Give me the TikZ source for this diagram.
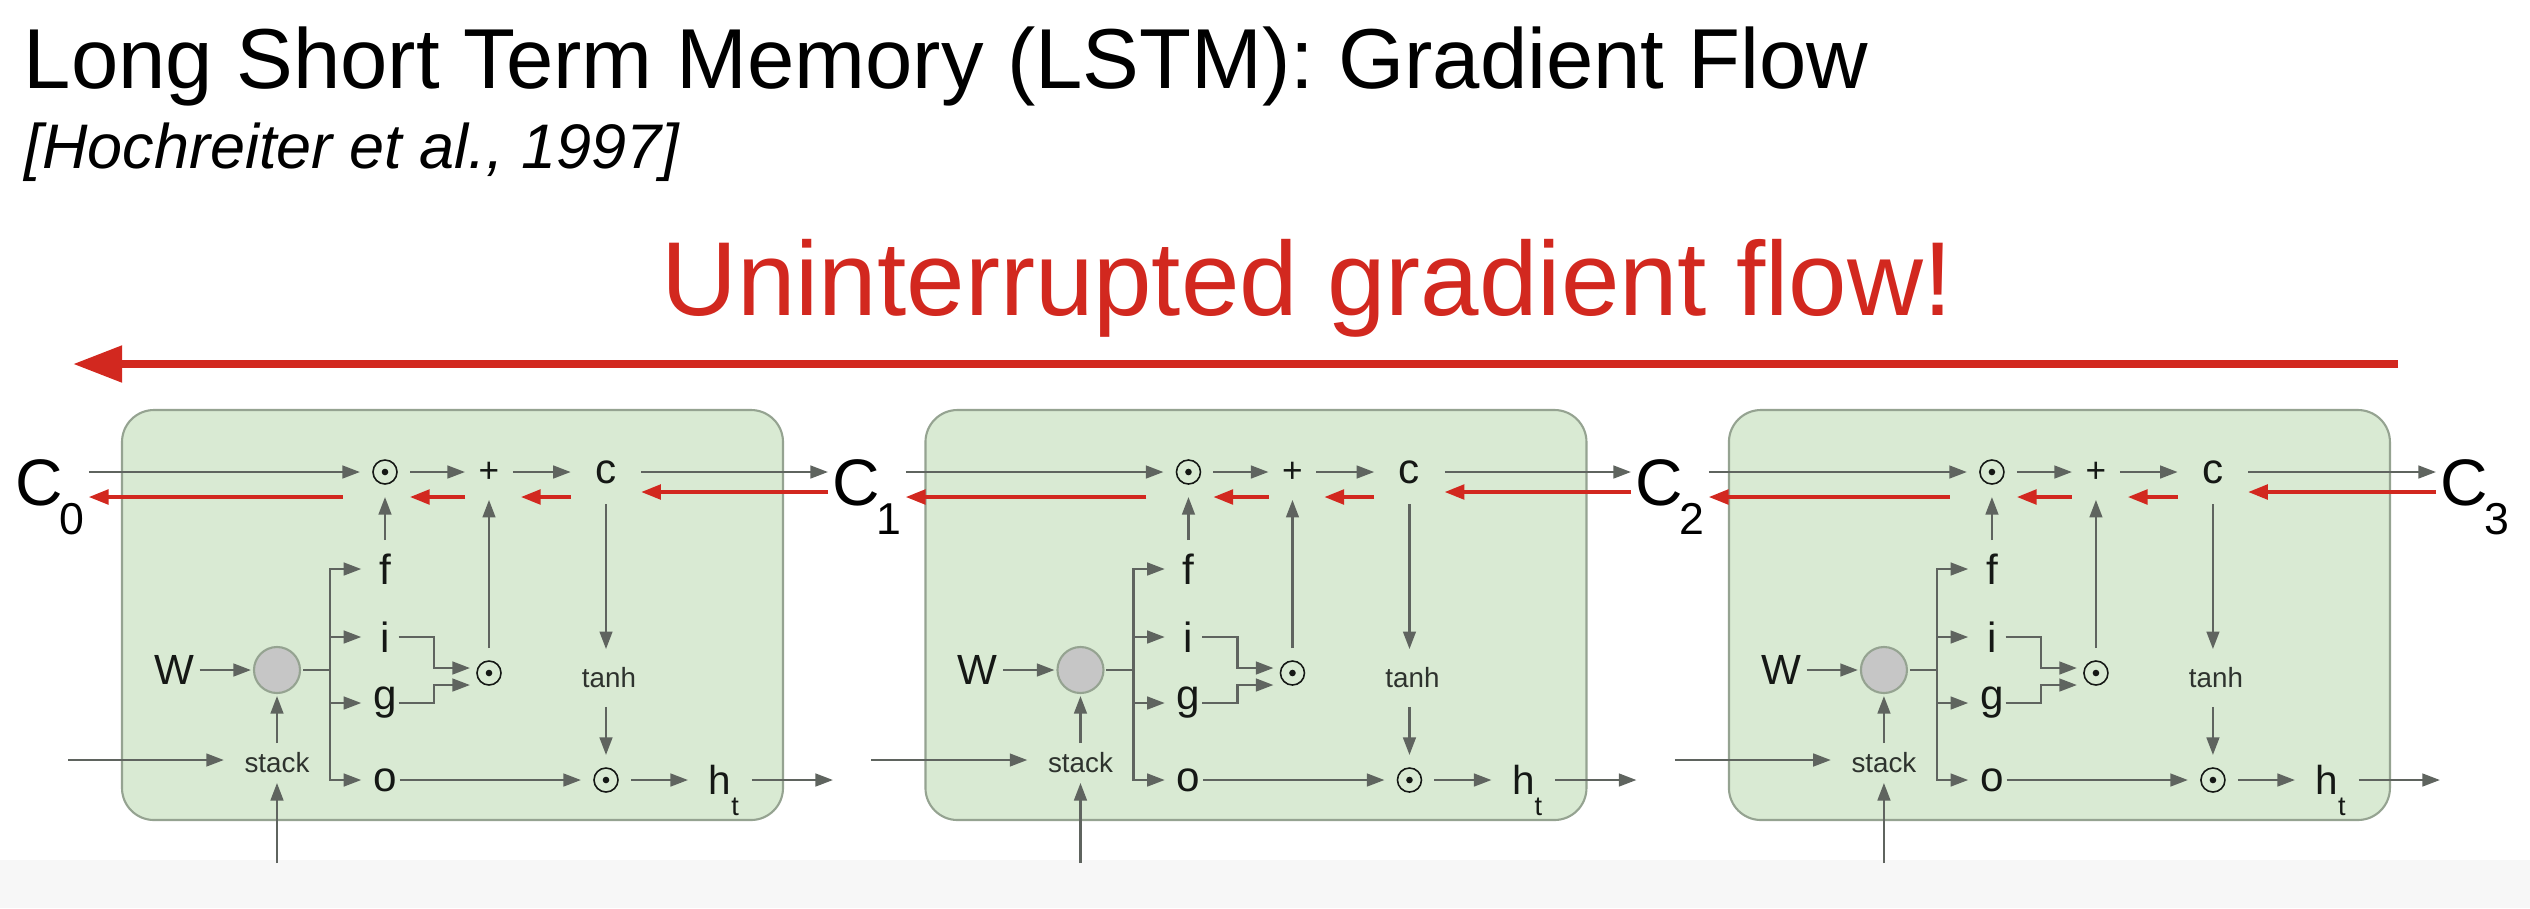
\documentclass[tikz,border=0pt]{standalone}
\usepackage{fontspec}
\setmainfont{Liberation Sans}
\usepackage{xcolor}
\usepackage{tikz}
\usetikzlibrary{arrows.meta, calc}
\definecolor{cellfill}{HTML}{D9EAD3}
\definecolor{cellline}{HTML}{95A391}
\definecolor{wiregray}{HTML}{5F645F}
\definecolor{ink}{HTML}{151815}
\definecolor{softink}{HTML}{2E332E}
\definecolor{flowred}{HTML}{D2281F}
\definecolor{nodegray}{HTML}{C6C6C6}
\definecolor{bandgray}{HTML}{F7F7F7}

\tikzset{
  cellbox/.style={draw=cellline, fill=cellfill, line width=0.6pt, rounded corners=0.32cm},
  wire/.style={draw=wiregray, line width=0.7pt},
  warrow/.style={wire, -{Triangle[length=5pt, width=3.6pt]}},
  backflow/.style={draw=flowred, line width=0.9pt, -{Triangle[length=5.6pt, width=4.2pt]}},
  gate/.style={text=ink, font=\fontsize{12}{14}\selectfont, inner xsep=0pt, inner ysep=0.13cm, minimum width=0.46cm},
  smalltag/.style={text=softink, font=\fontsize{7.9}{9}\selectfont},
  odot/.style={circle, draw=ink, line width=0.45pt, minimum size=0.24cm, inner sep=0pt, outer sep=0.13cm,
    path picture={\fill[ink] (path picture bounding box.center) circle (0.033cm);}},
  cellstate/.style={text=black, font=\fontsize{18.7}{22}\selectfont, inner xsep=0.04cm, inner ysep=0pt}
}
\newcommand{\csub}[1]{C\kern-1.1pt\raisebox{-8.5pt}[0pt][0pt]{\fontsize{12.7}{14}\selectfont #1}}

\begin{document}
\begin{tikzpicture}[x=0.01cm, y=-0.01cm]
\useasboundingbox (0,0) rectangle (2530,908);
\fill[bandgray] (0,860) rectangle (2530,908);

% headings
\node[anchor=base west, inner sep=0pt, font=\fontsize{24.2}{29}\selectfont] (title) at (23,88) {Long Short Term Memory (LSTM): Gradient Flow};
\node[anchor=base west, inner sep=0pt, font=\itshape\fontsize{17.9}{21}\selectfont] (cite) at (24,168) {[Hochreiter et al., 1997]};
\node[anchor=base, inner sep=0pt, text=flowred, font=\fontsize{29.9}{35}\selectfont] (slogan) at (1307,315) {Uninterrupted gradient flow!};

\coordinate (ftail) at (2398,364);
\coordinate (fhead) at (73,364);
\draw[flowred, line width=2.3pt, -{Triangle[length=14pt, width=10pt]}] (ftail) -- (fhead);

\coordinate (rhi) at (0,492);
\coordinate (rlo) at (0,497);

% cell states between the cells
\foreach \k/\cx in {0/11, 1/828, 2/1631, 3/2436}
  \node[cellstate, anchor=base west] (C\k) at (\cx,505) {\csub{\k}};

% one LSTM cell per step
\foreach \k/\sx in {0/0, 1/8.03, 2/16.06} {
  \pgfmathtruncatemacro{\nk}{\k+1}
  \begin{scope}[xshift=\sx cm]
    \draw[cellbox] (122,410) rectangle (783,820);
    \node[odot] (dA\k) at (385,472) {};
    \node[text=ink, font=\fontsize{10}{12}\selectfont, inner xsep=0.13cm, inner ysep=0.17cm] (plus\k) at (489,472) {+};
    \node[gate, inner xsep=0.24cm, inner ysep=0.2cm, minimum width=0pt] (cst\k) at (606,472) {c};
    \node[gate] (f\k) at (385,569) {f};
    \node[gate] (i\k) at (385,637) {i};
    \node[gate] (g\k) at (385,703) {g};
    \node[gate] (o\k) at (385,780) {o};
    \node[odot] (dI\k) at (489,673) {};
    \node[smalltag, inner xsep=0pt, inner ysep=0.18cm] (th\k) at (609,678) {tanh};
    \node[odot] (dO\k) at (606,780) {};
    \node[gate, font=\fontsize{11.5}{13}\selectfont, inner xsep=0.2cm, inner ysep=0pt, minimum width=0pt] (h\k) at (720,780) {h\rlap{\raisebox{-6pt}[0pt][0pt]{\fontsize{7.7}{9}\selectfont t}}};
    \coordinate (hout\k) at (833,780);
    \node[gate, inner xsep=0.05cm, inner ysep=0pt, minimum width=0pt] (W\k) at (174,670) {W};
    \node[circle, draw=cellline, fill=nodegray, line width=0.6pt, minimum size=0.46cm, inner sep=0pt, outer sep=0.03cm] (mix\k) at (277,670) {};
    \coordinate (br\k) at (330,670);
    \node[smalltag, inner xsep=0.2cm, inner ysep=0.09cm] (st\k) at (277,763) {stack};
    \coordinate (xin\k) at (68,760);
    \coordinate (hin\k) at (277,863);

    % forward wires
    \draw[warrow] (C\k.east |- dA\k) -- (dA\k);
    \draw[warrow] (dA\k) -- (plus\k);
    \draw[warrow] (plus\k) -- (cst\k);
    \draw[warrow] (cst\k) -- (cst\k -| C\nk.west);
    \draw[warrow] (f\k) -- (dA\k);
    \draw[warrow] (dI\k) -- (plus\k);
    \draw[warrow] (cst\k) -- (cst\k |- th\k.north);
    \draw[warrow] (th\k.south -| dO\k) -- (dO\k);
    \draw[warrow, shorten <=-0.09cm] (o\k.east) -- (dO\k);
    \draw[warrow] (dO\k) -- (h\k);
    \draw[warrow] (h\k) -- (hout\k);
    \draw[warrow] (W\k) -- (mix\k);
    \draw[wire] (mix\k) -- (br\k);
    \foreach \q in {f,i,g,o}
      \draw[warrow] (br\k) |- (\q\k);
    \draw[warrow] ([xshift=-0.1cm]i\k.east) -| ([xshift=-0.3cm,yshift=0.05cm]dI\k.west) -- ([xshift=0.06cm,yshift=0.05cm]dI\k.west);
    \draw[warrow] ([xshift=-0.1cm]g\k.east) -| ([xshift=-0.3cm,yshift=-0.12cm]dI\k.west) -- ([xshift=0.06cm,yshift=-0.12cm]dI\k.west);
    \draw[warrow] (st\k) -- (mix\k);
    \draw[warrow] (hin\k) -- (st\k);
    \draw[warrow] (xin\k) -- (xin\k -| st\k.west);

    % gradient going back
    \draw[backflow] (C\nk.west |- rhi) -- (cst\k.east |- rhi);
    \draw[backflow, shorten >=0.08cm] (cst\k.west |- rlo) -- (plus\k.east |- rlo);
    \draw[backflow] (plus\k.west |- rlo) -- (dA\k.east |- rlo);
    \draw[backflow, shorten <=0.17cm] (dA\k.west |- rlo) -- (C\k.east |- rlo);
  \end{scope}
}
\end{tikzpicture}
\end{document}
